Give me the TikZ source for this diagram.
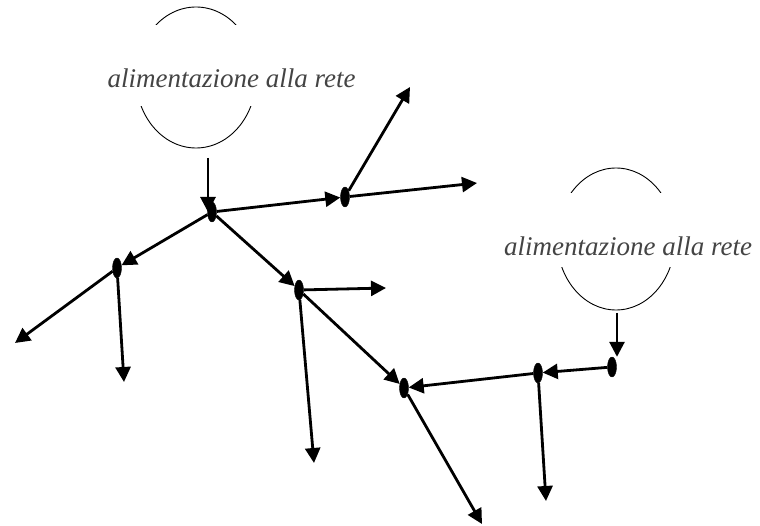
\documentclass[tikz,border=0pt]{standalone}
\usepackage{fontspec}
\setmainfont{Liberation Serif}
\usepackage{tikz}
\usetikzlibrary{positioning, shapes.geometric, arrows.meta, calc}
\definecolor{labelgray}{RGB}{68,68,68}
\tikzstyle{source}=[draw,ellipse,line width=0.9pt,inner sep=0pt]
\tikzstyle{sourceLabel}=[fill=white,inner sep=0pt,anchor=base,text=labelgray,font=\itshape\fontsize{27}{30}\selectfont]
\tikzstyle{junction}=[draw,fill=black,ellipse,minimum width=9pt,minimum height=20pt,inner sep=0pt]
\tikzstyle{flow}=[-{Triangle[length=15pt,width=15pt]}, line width=2.8pt]

\begin{document}
\begin{tikzpicture}[x=1pt,y=-1pt]
        \useasboundingbox (0,0) rectangle (760,526);

        \node[source, minimum width=120pt, minimum height=141pt] (src1) at (196, 77.5) {};
        \node[source, minimum width=118pt, minimum height=142pt] (src2) at (616, 239) {};
        \node[sourceLabel, text height=63pt, text depth=18pt] (t1) at (231.5, 88) {alimentazione alla rete};
        \node[sourceLabel, text height=63pt, text depth=11pt] (t2) at (628, 256) {alimentazione alla rete};

        \node[junction] (n1) at (212, 212) {};
        \node[junction] (n2) at (345, 197) {};
        \node[junction] (n3) at (117, 268) {};
        \node[junction] (n4) at (299, 290) {};
        \node[junction] (n5) at (404, 388) {};
        \node[junction] (n6) at (538, 373) {};
        \node[junction] (n7) at (612, 367) {};

        \coordinate (s1) at (208, 158);
        \coordinate (s2) at (617, 313);
        \coordinate (e1) at (410, 87);
        \coordinate (e2) at (477, 183);
        \coordinate (e3) at (15, 343);
        \coordinate (e4) at (124, 382);
        \coordinate (e5) at (386, 288);
        \coordinate (e6) at (314, 463);
        \coordinate (e7) at (482, 524);
        \coordinate (e8) at (546, 501);

        \draw[flow] (s1) -- (s1 |- n1);
        \draw[flow] (s2) -- (s2 |- n7.north);

        \draw[flow] (n1) -- (n2);
        \draw[flow] (n1) -- (n3);
        \draw[flow] (n1) -- (n4);

        \draw[flow] (n2) -- (e1);
        \draw[flow] (n2) -- (e2);

        \draw[flow] (n3) -- (e3);
        \draw[flow] (n3) -- (e4);

        \draw[flow] (n4) -- (e5);
        \draw[flow] (n4) -- (e6);
        \draw[flow] (n4) -- (n5);

        \draw[flow] (n5) -- (e7);
        \draw[flow] (n6) -- (n5);
        \draw[flow] (n6) -- (e8);
        \draw[flow] (n7) -- (n6);

\end{tikzpicture}
\end{document}
